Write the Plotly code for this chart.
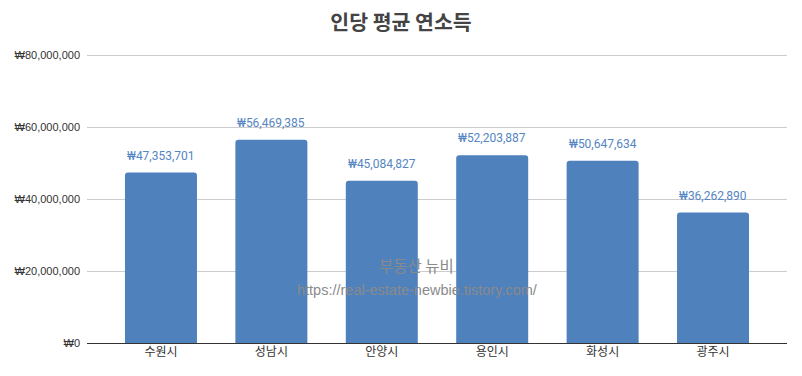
import plotly.graph_objects as go

categories = ["수원시", "성남시", "안양시", "용인시", "화성시", "광주시"]
income = [47353701, 56469385, 45084827, 52203887, 50647634, 36262890]
tick_values = [0, 20000000, 40000000, 60000000, 80000000]
tick_labels = ["₩0", "₩20,000,000", "₩40,000,000", "₩60,000,000", "₩80,000,000"]
title_text = "인당 평균 연소득"
watermark_name = "부동산 뉴비"
watermark_url = "https://real-estate-newbie.tistory.com/"

bar_color = "#4f81bd"
label_color = "#5585c3"
watermark_color = "#8a8a8a"

fig = go.Figure()
fig.add_trace(go.Bar(
    x=list(range(len(categories))),
    y=income,
    width=0.652,
    marker=dict(color=bar_color, line=dict(width=0), cornerradius=3),
    hoverinfo="skip",
))

annotations = []
for i, v in enumerate(income):
    annotations.append(dict(
        x=i, y=v, xref="x", yref="y", text=f"₩{v:,}", showarrow=False,
        yanchor="bottom", yshift=8,
        font=dict(family="Roboto, Arial, sans-serif", size=12, color=label_color),
    ))

plot_top, plot_bottom, plot_left, plot_w = 53, 343, 87, 700
h = plot_bottom - plot_top
annotations.append(dict(
    x=(416 - plot_left) / plot_w, y=(plot_bottom - 265) / h, xref="paper", yref="paper",
    xanchor="center", yanchor="middle",
    text=watermark_name, showarrow=False,
    font=dict(family="Noto Sans CJK KR, sans-serif", size=15.5, color=watermark_color),
))
annotations.append(dict(
    x=(417 - plot_left) / plot_w, y=(plot_bottom - 290) / h, xref="paper", yref="paper",
    xanchor="center", yanchor="middle",
    text=watermark_url, showarrow=False,
    font=dict(family="Liberation Sans, Arial, sans-serif", size=14.5, color=watermark_color),
))

fig.update_layout(
    width=802, height=376,
    margin=dict(l=87, r=15, t=53, b=33),
    paper_bgcolor="white", plot_bgcolor="white",
    showlegend=False,
    title=dict(text=f"<b>{title_text}</b>", x=0.5, xanchor="center", y=0.94, yanchor="middle",
               font=dict(family="Noto Sans CJK KR, sans-serif", size=20.5, color="#444444")),
    xaxis=dict(
        range=[-0.67, 5.67], tickmode="array", tickvals=list(range(len(categories))),
        ticktext=categories, showgrid=False, zeroline=False, showline=False,
        ticks="", tickfont=dict(family="Noto Sans CJK KR, sans-serif", size=12, color="#333333"),
        fixedrange=True,
    ),
    yaxis=dict(
        range=[0, 80600000], tickmode="array", tickvals=tick_values, ticktext=tick_labels,
        showgrid=True, gridcolor="#cccccc", gridwidth=1,
        zeroline=True, zerolinecolor="#333333", zerolinewidth=1,
        showline=False, ticks="", ticklabelstandoff=6,
        tickfont=dict(family="Liberation Sans, Arial, sans-serif", size=11, color="#333333"),
        fixedrange=True,
    ),
    annotations=annotations,
)

fig.write_html("out.html", config={"displayModeBar": False},
               post_script="document.body.style.margin='0';")
